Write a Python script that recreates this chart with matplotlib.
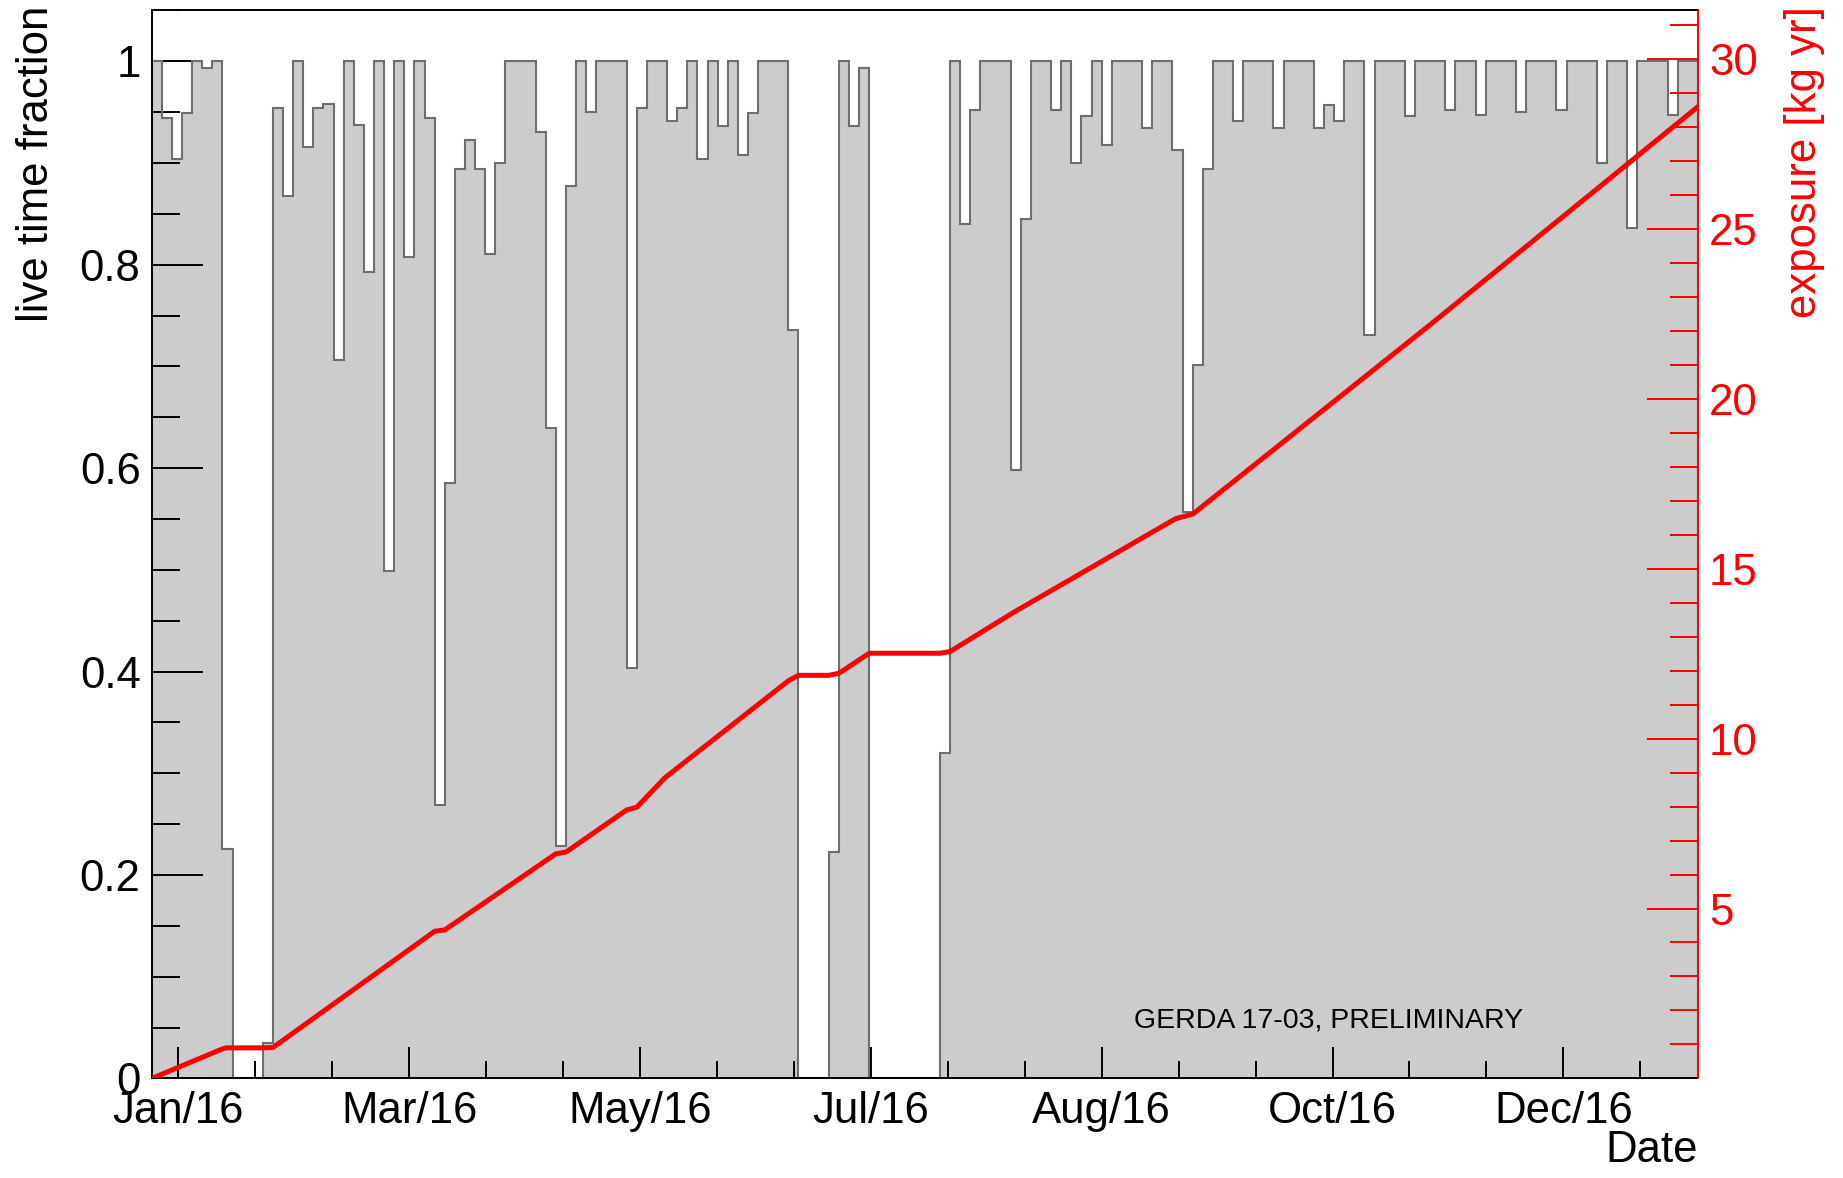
import numpy as np
import matplotlib
matplotlib.use("Agg")
import matplotlib.pyplot as plt

plt.rcParams['font.family'] = ['Liberation Sans', 'DejaVu Sans']

# live time fraction per bin (bins of 2.5 days)
bin_days = 2.5
live_frac = [
    1.0, 0.944, 0.904, 0.949, 1.0, 0.993, 1.0, 0.226, 0, 0,
    0, 0.035, 0.954, 0.868, 1.0, 0.916, 0.954, 0.958, 0.706, 1.0,
    0.937, 0.793, 1.0, 0.499, 1.0, 0.808, 1.0, 0.944, 0.269, 0.585,
    0.894, 0.923, 0.894, 0.811, 0.900, 1.0, 1.0, 1.0, 0.931, 0.640,
    0.229, 0.877, 1.0, 0.950, 1.0, 1.0, 1.0, 0.404, 0.954, 1.0,
    1.0, 0.941, 0.954, 1.0, 0.904, 1.0, 0.936, 1.0, 0.908, 0.949,
    1.0, 1.0, 1.0, 0.736, 0, 0, 0, 0.223, 1.0, 0.936,
    0.993, 0, 0, 0, 0, 0, 0, 0, 0.320, 1.0,
    0.840, 0.952, 1.0, 1.0, 1.0, 0.598, 0.845, 1.0, 1.0, 0.952,
    1.0, 0.900, 0.946, 1.0, 0.918, 1.0, 1.0, 1.0, 0.934, 1.0,
    1.0, 0.913, 0.557, 0.701, 0.894, 1.0, 1.0, 0.941, 1.0, 1.0,
    1.0, 0.934, 1.0, 1.0, 1.0, 0.934, 0.957, 0.941, 1.0, 1.0,
    0.731, 1.0, 1.0, 1.0, 0.946, 1.0, 1.0, 1.0, 0.952, 1.0,
    1.0, 0.947, 1.0, 1.0, 1.0, 0.950, 1.0, 1.0, 1.0, 0.952,
    1.0, 1.0, 1.0, 0.900, 1.0, 1.0, 0.836, 1.0, 1.0, 1.0,
    0.947, 1.0, 1.0,
]

# cumulative exposure
exp_days = [0, 17.5, 18.5, 27.5, 30, 70, 72.5, 100, 102.5, 117.5, 120,
            127, 157.5, 160, 167.5, 170, 177.5, 195, 197.5, 212.9, 253.3,
            257.5, 316, 382.5]
exp_vals = [0, 0.87, 0.90, 0.90, 0.91, 4.33, 4.37, 6.61, 6.66, 7.90, 7.98,
            8.85, 11.70, 11.86, 11.86, 11.92, 12.51, 12.51, 12.56, 13.69, 16.47,
            16.60, 22.15, 28.59]

tick_days = [6.6, 63.7, 120.8, 177.9, 235.0, 292.1, 349.2]
tick_labels = ["Jan/16", "Mar/16", "May/16", "Jul/16", "Aug/16", "Oct/16", "Dec/16"]

edges = np.arange(len(live_frac) + 1) * bin_days

fig = plt.figure(figsize=(18.43, 11.78), dpi=100)
ax = fig.add_axes([0.0823, 0.0845, 0.839, 0.9066])

ax.stairs(live_frac, edges, fill=True, color='#cccccc', zorder=1)
ax.stairs(live_frac, edges, color='#6e6e6e', lw=1.5, zorder=2)
ax.set_xlim(edges[0], edges[-1])
ax.set_ylim(0, 1.05)

# left axis
ax.set_yticks([0, 0.2, 0.4, 0.6, 0.8, 1.0], ["0", "0.2", "0.4", "0.6", "0.8", "1"])
ax.set_yticks(np.arange(0, 1.06, 0.05), minor=True)
ax.tick_params(axis='y', which='major', direction='in', length=37, width=1.4,
               labelsize=31.5, pad=8, right=False)
ax.tick_params(axis='y', which='minor', direction='in', length=20, width=1.4, right=False)

# date axis
step = (tick_days[1] - tick_days[0]) / 3
ax.set_xticks(tick_days, tick_labels)
ax.set_xticks(np.arange(tick_days[0], edges[-1], step), minor=True)
ax.tick_params(axis='x', which='major', direction='in', length=22, width=1.4,
               labelsize=31.5, pad=9, top=False)
ax.tick_params(axis='x', which='minor', direction='in', length=12, width=1.4, top=False)

for s in ['left', 'bottom', 'top']:
    ax.spines[s].set_linewidth(1.4)
ax.spines['right'].set_visible(False)

ax.set_ylabel("live time fraction", fontsize=31.5)
ax.yaxis.label.set(rotation_mode='default', ha='center', va='top')
ax.yaxis.set_label_coords(-0.0742, 1.0042)
ax.set_xlabel("Date", fontsize=31.5)
ax.xaxis.label.set(ha='right', va='top')
ax.xaxis.set_label_coords(1.0, -0.048)

ax.text(0.761, 0.0478, "GERDA 17-03, PRELIMINARY", transform=ax.transAxes,
        ha='center', va='baseline', fontsize=20.5)

# exposure axis
ax2 = ax.twinx()
ax2.plot(exp_days, exp_vals, color='red', lw=3.6, solid_joinstyle='round')
ax2.set_ylim(0, 31.42)
ax2.set_yticks([5, 10, 15, 20, 25, 30])
ax2.set_yticks(np.arange(1, 32, 1), minor=True)
ax2.tick_params(axis='y', which='major', direction='in', length=37, width=1.4,
                labelsize=31.5, pad=8, colors='red')
ax2.tick_params(axis='y', which='minor', direction='in', length=20, width=1.4, colors='red')
for s in ['left', 'bottom', 'top']:
    ax2.spines[s].set_visible(False)
ax2.spines['right'].set_color('red')
ax2.spines['right'].set_linewidth(1.4)
ax2.set_ylabel("exposure [kg yr]", fontsize=31.5, color='red')
ax2.yaxis.label.set(rotation_mode='default', ha='center', va='top')
ax2.yaxis.set_label_coords(1.0688, 1.0042)

fig.savefig("out.png", dpi=100)
